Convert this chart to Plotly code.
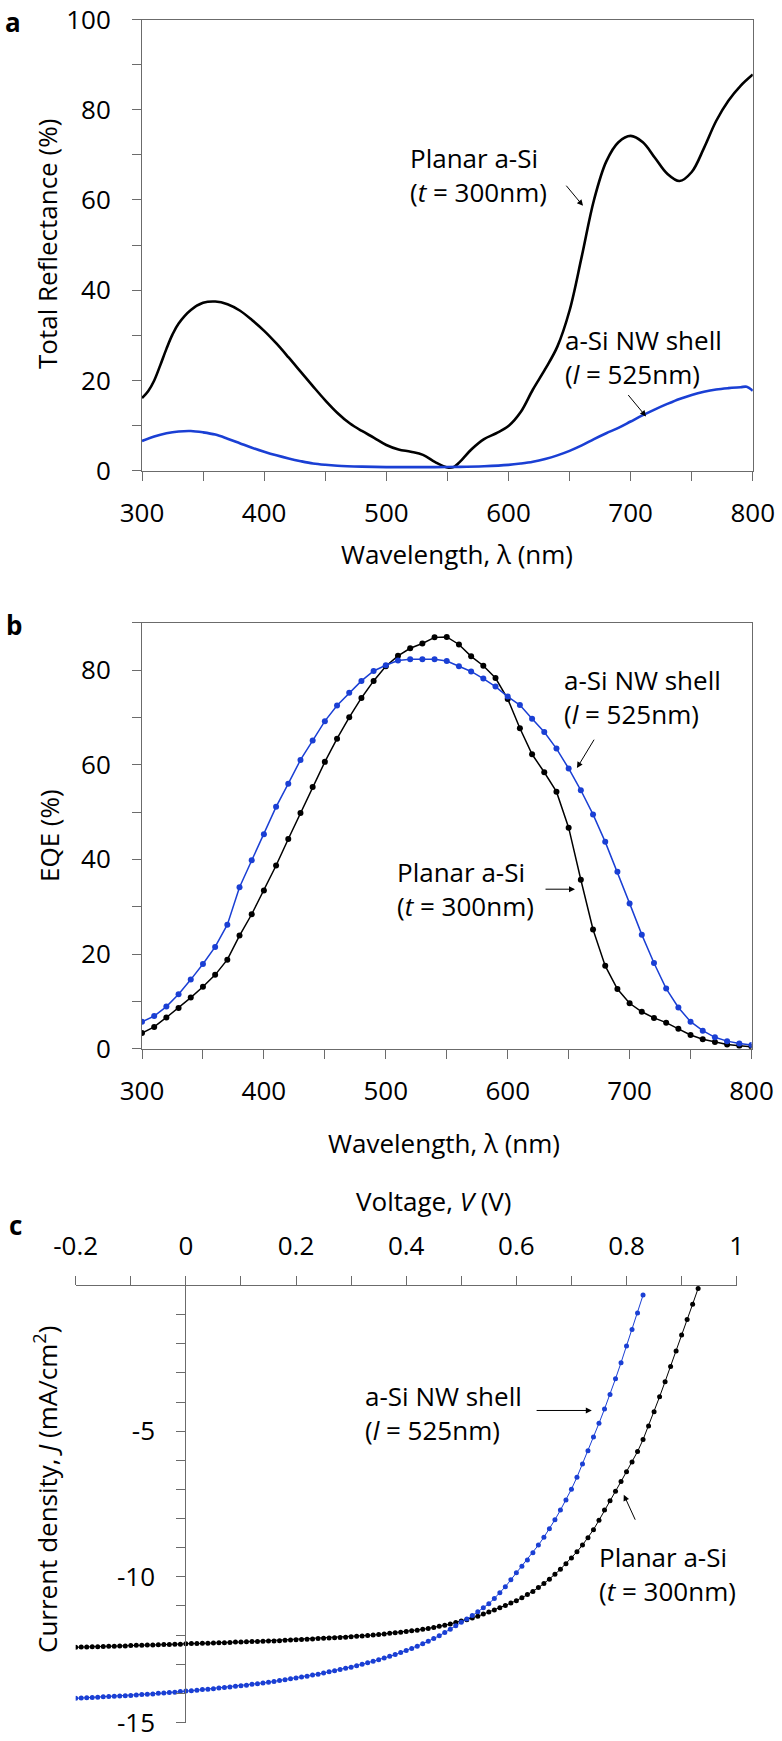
import numpy as np
import plotly.graph_objects as go

W, H = 782, 1741
BLUE = "#1a3fd4"
AXIS = "#6b6b6b"
FONT = "Open Sans"
FS = 26

# ---- (a) total reflectance ----
refl_nm_planar = [300, 305, 310, 315, 320, 325, 330, 340, 350, 360, 370, 380, 390, 400, 410, 420,
                  430, 440, 450, 460, 470, 480, 490, 500, 510, 520, 530, 540, 550, 555, 560, 570,
                  580, 590, 600, 610, 620, 630, 640, 650, 660, 670, 680, 690, 700, 710, 720, 730,
                  740, 750, 760, 770, 780, 790, 800]
refl_planar = [16.1, 17.6, 20.0, 23.4, 27.0, 30.2, 32.6, 35.6, 37.2, 37.5, 36.9, 35.5, 33.4, 31.0, 28.2, 25.1,
               21.9, 18.7, 15.6, 12.8, 10.5, 8.8, 7.3, 5.7, 4.7, 4.2, 3.5, 1.9, 0.7, 0.8, 1.9, 4.8,
               7.0, 8.3, 9.9, 13.0, 18.0, 22.5, 27.5, 35.5, 47.5, 60.0, 68.5, 72.8, 74.2, 72.8, 69.3, 65.8,
               64.2, 66.2, 71.5, 77.5, 82.0, 85.3, 87.8]
refl_nm_nw = [300, 310, 320, 330, 340, 350, 360, 370, 380, 390, 400, 410, 420, 430, 440, 450,
              460, 480, 500, 520, 540, 560, 580, 600, 610, 620, 630, 640, 650, 660, 670, 680,
              690, 700, 710, 720, 730, 740, 750, 760, 770, 780, 790, 795, 800]
refl_nw = [6.6, 7.6, 8.3, 8.7, 8.8, 8.5, 8.0, 7.1, 6.1, 5.1, 4.2, 3.4, 2.7, 2.1, 1.6, 1.3,
           1.1, 0.9, 0.8, 0.8, 0.8, 0.85, 1.0, 1.3, 1.6, 2.0, 2.6, 3.4, 4.4, 5.6, 7.0, 8.3,
           9.5, 10.9, 12.3, 13.6, 14.8, 15.9, 16.8, 17.5, 18.0, 18.3, 18.5, 18.6, 17.7]

# ---- (b) EQE, 10 nm steps ----
eqe_nm = list(range(300, 801, 10))
eqe_planar = [3.3, 4.6, 6.6, 8.6, 10.8, 13.1, 15.6, 18.8, 23.9, 28.4, 33.4, 38.7, 44.3, 49.8, 55.3,
              60.6, 65.5, 70.0, 74.1, 77.7, 80.8, 83.0, 84.6, 85.6, 86.9, 87.0, 85.4, 82.9, 80.9, 78.3,
              73.9, 67.7, 62.2, 58.4, 54.3, 46.7, 35.7, 25.2, 17.5, 12.6, 9.6, 7.8, 6.5, 5.5, 4.2,
              2.9, 2.0, 1.4, 0.9, 0.6, 0.4]
eqe_nw = [5.7, 6.9, 8.9, 11.5, 14.6, 17.9, 21.5, 26.2, 34.1, 39.8, 45.3, 51.1, 56.0, 61.0, 65.1,
          69.2, 72.5, 75.2, 77.7, 79.8, 81.0, 82.0, 82.3, 82.3, 82.3, 81.9, 80.8, 79.7, 78.2, 76.5,
          74.4, 72.6, 69.7, 66.9, 63.4, 59.2, 54.6, 49.5, 43.7, 37.4, 30.7, 24.1, 18.1, 12.7, 8.7,
          5.7, 3.8, 2.4, 1.6, 1.1, 0.8]

# ---- (c) J-V, 10 mV steps starting at -0.2 V ----
jv_planar = [-12.42, -12.41, -12.41, -12.40, -12.40, -12.39, -12.38, -12.38, -12.37, -12.37,
             -12.36, -12.35, -12.35, -12.34, -12.34, -12.33, -12.32, -12.32, -12.31, -12.31,
             -12.30, -12.29, -12.29, -12.28, -12.28, -12.27, -12.26, -12.26, -12.25, -12.24,
             -12.24, -12.23, -12.22, -12.22, -12.21, -12.20, -12.20, -12.19, -12.18, -12.17,
             -12.16, -12.15, -12.14, -12.13, -12.12, -12.11, -12.10, -12.09, -12.08, -12.07,
             -12.06, -12.04, -12.03, -12.01, -12.00, -11.98, -11.96, -11.94, -11.92, -11.90,
             -11.88, -11.85, -11.83, -11.80, -11.77, -11.74, -11.70, -11.66, -11.62, -11.57,
             -11.52, -11.47, -11.41, -11.35, -11.28, -11.21, -11.14, -11.06, -10.98, -10.90,
             -10.82, -10.72, -10.61, -10.50, -10.37, -10.23, -10.08, -9.91, -9.74, -9.55,
             -9.35, -9.14, -8.91, -8.66, -8.38, -8.06, -7.71, -7.39, -7.06, -6.73,
             -6.39, -6.06, -5.70, -5.29, -4.82, -4.33, -3.82, -3.30, -2.78, -2.25,
             -1.70, -1.17, -0.64, -0.10]
jv_nw = [-14.17, -14.16, -14.15, -14.14, -14.13, -14.12, -14.11, -14.10, -14.09, -14.08,
         -14.07, -14.06, -14.04, -14.03, -14.02, -14.00, -13.99, -13.97, -13.96, -13.94,
         -13.92, -13.91, -13.89, -13.87, -13.86, -13.84, -13.82, -13.80, -13.78, -13.76,
         -13.74, -13.72, -13.69, -13.67, -13.64, -13.62, -13.59, -13.56, -13.53, -13.50,
         -13.47, -13.44, -13.41, -13.37, -13.34, -13.30, -13.26, -13.22, -13.18, -13.14,
         -13.10, -13.05, -13.00, -12.95, -12.90, -12.85, -12.79, -12.73, -12.67, -12.60,
         -12.53, -12.46, -12.38, -12.30, -12.21, -12.12, -12.02, -11.91, -11.80, -11.68,
         -11.56, -11.45, -11.33, -11.20, -11.06, -10.92, -10.74, -10.55, -10.34, -10.10,
         -9.86, -9.64, -9.42, -9.17, -8.91, -8.64, -8.35, -8.04, -7.71, -7.36,
         -6.99, -6.58, -6.13, -5.67, -5.20, -4.73, -4.24, -3.74, -3.20, -2.65,
         -2.08, -1.51, -0.94, -0.33]
v_planar = np.round(-0.2 + 0.01 * np.arange(len(jv_planar)), 2)
v_nw = np.round(-0.2 + 0.01 * np.arange(len(jv_nw)), 2)

v_ticks = [-0.2, 0, 0.2, 0.4, 0.6, 0.8, 1]
v_ticktext = ["-0.2", "0", "0.2", "0.4", "0.6", "0.8", "1"]
j_ticks = [-5, -10, -15]
j_ticktext = ["-5", "-10", "-15"]


def fx(px):
    return px / W


def fy(py):
    return 1 - py / H


fig = go.Figure()

fig.add_trace(go.Scatter(x=refl_nm_planar, y=refl_planar, mode="lines", line=dict(color="black", width=2.6, shape="spline"),
                         xaxis="x", yaxis="y"))
fig.add_trace(go.Scatter(x=refl_nm_nw, y=refl_nw, mode="lines", line=dict(color=BLUE, width=2.6, shape="spline"),
                         xaxis="x", yaxis="y"))

fig.add_trace(go.Scatter(x=eqe_nm, y=eqe_planar, mode="lines+markers", line=dict(color="black", width=1.5),
                         marker=dict(size=6, color="black"), xaxis="x2", yaxis="y2"))
fig.add_trace(go.Scatter(x=eqe_nm, y=eqe_nw, mode="lines+markers", line=dict(color=BLUE, width=1.5),
                         marker=dict(size=6, color=BLUE), xaxis="x2", yaxis="y2"))

fig.add_trace(go.Scatter(x=v_planar, y=jv_planar, mode="lines+markers", line=dict(color="black", width=1),
                         marker=dict(size=5, color="black"), xaxis="x3", yaxis="y3"))
fig.add_trace(go.Scatter(x=v_nw, y=jv_nw, mode="lines+markers", line=dict(color=BLUE, width=1),
                         marker=dict(size=5, color=BLUE), xaxis="x3", yaxis="y3"))

tickfont = dict(family=FONT, size=FS, color="black")
common = dict(showline=True, linecolor=AXIS, linewidth=1, ticks="outside", ticklen=9,
              tickcolor=AXIS, showgrid=False, zeroline=False, tickfont=tickfont,
              automargin=False, ticklabeloverflow="allow")

fig.update_layout(
    template="none",
    width=W, height=H, margin=dict(l=0, r=0, t=0, b=0, pad=0), autosize=False,
    paper_bgcolor="white", plot_bgcolor="white", showlegend=False,
    font=dict(family=FONT, size=FS, color="black"),
    xaxis=dict(domain=[fx(142), fx(752.8)], range=[300, 800], anchor="y", mirror=True,
               tickmode="array", tickvals=[300, 400, 500, 600, 700, 800],
               minor=dict(tickmode="array", tickvals=[350, 450, 550, 650, 750],
                          ticks="outside", ticklen=9, tickcolor=AXIS),
               ticklabelstandoff=10, **common),
    yaxis=dict(domain=[fy(470.7), fy(19.5)], range=[0, 100], anchor="x", mirror=True,
               tickmode="array", tickvals=[0, 20, 40, 60, 80, 100],
               minor=dict(tickmode="array", tickvals=[10, 30, 50, 70, 90],
                          ticks="outside", ticklen=9, tickcolor=AXIS),
               ticklabelstandoff=16, **common),
    xaxis2=dict(domain=[fx(142), fx(751.5)], range=[300, 800], anchor="y2", mirror=True,
                tickmode="array", tickvals=[300, 400, 500, 600, 700, 800],
                minor=dict(tickmode="array", tickvals=[350, 450, 550, 650, 750],
                           ticks="outside", ticklen=9, tickcolor=AXIS),
                ticklabelstandoff=10, **common),
    yaxis2=dict(domain=[fy(1048.7), fy(622.7)], range=[0, 90], anchor="x2", mirror=True,
                tickmode="array", tickvals=[0, 20, 40, 60, 80],
                minor=dict(tickmode="array", tickvals=[10, 30, 50, 70, 90],
                           ticks="outside", ticklen=9, tickcolor=AXIS),
                ticklabelstandoff=16, **common),
    xaxis3=dict(domain=[fx(75.7), fx(736.7)], range=[-0.2, 1], anchor="y3", side="top",
                tickmode="array", tickvals=v_ticks, ticktext=v_ticktext,
                minor=dict(tickmode="array", tickvals=[-0.1, 0.1, 0.3, 0.5, 0.7, 0.9],
                           ticks="outside", ticklen=9, tickcolor=AXIS),
                ticklabelstandoff=10, **common),
    yaxis3=dict(domain=[fy(1722.5), fy(1285.5)], range=[-15, 0], anchor="free", position=fx(185.3),
                tickmode="array", tickvals=j_ticks, ticktext=j_ticktext,
                minor=dict(tickmode="array", tickvals=[v for v in range(-14, 0) if v % 5],
                           ticks="outside", ticklen=9, tickcolor=AXIS),
                ticklabelstandoff=16, **common),
)

titles = [
    ("Total Reflectance (%)", 47, 244, -90),
    ("Wavelength, λ (nm)", 457, 554, 0),
    ("EQE (%)", 49, 836, -90),
    ("Wavelength, λ (nm)", 444, 1143, 0),
    ("Voltage, <i>V</i> (V)", 434, 1201, 0),
    ("Current density, <i>J</i> (mA/cm<sup>2</sup>)", 46, 1490, -90),
]
for text, x, y, ang in titles:
    fig.add_annotation(text=text, x=fx(x), y=fy(y), xref="paper", yref="paper",
                       showarrow=False, textangle=ang, xanchor="center", yanchor="middle")

for lab, x, y in [("a", 13, 22), ("b", 14, 625), ("c", 15, 1225)]:
    fig.add_annotation(text="<b>" + lab + "</b>", x=fx(x), y=fy(y), xref="paper", yref="paper",
                       showarrow=False, xanchor="center", yanchor="middle", font=dict(size=FS))

planar = "Planar a-Si<br>(<i>t</i> = 300nm)"
nw = "a-Si NW shell<br>(<i>l</i> = 525nm)"
labels = [
    (planar, 517.7, 65.6, "x", "y"),
    (nw, 644.6, 25.1, "x", "y"),
    (nw, 644.5, 74.2, "x2", "y2"),
    (planar, 507.5, 33.7, "x2", "y2"),
    (nw, 0.321, -4.36, "x3", "y3"),
    (planar, 0.746, -9.89, "x3", "y3"),
]
for text, x, y, xr, yr in labels:
    fig.add_annotation(text=text, x=x, y=y, xref=xr, yref=yr, showarrow=False,
                       xanchor="left", yanchor="middle", align="left")

# arrows: (tail x, tail y, head x, head y)
arrows = [
    (646.3, 63.5, 661.0, 58.7, "x", "y"),
    (697.0, 17.1, 712.6, 12.0, "x", "y"),
    (671.6, 65.6, 656.8, 59.3, "x2", "y2"),
    (629.8, 33.7, 655.2, 33.7, "x2", "y2"),
    (0.634, -4.29, 0.737, -4.29, "x3", "y3"),
    (0.817, -8.09, 0.795, -7.18, "x3", "y3"),
]
for tx, ty, hx, hy, xr, yr in arrows:
    fig.add_annotation(text="", x=hx, y=hy, ax=tx, ay=ty, xref=xr, yref=yr, axref=xr, ayref=yr,
                       showarrow=True, arrowhead=2, arrowsize=1.2, arrowwidth=1, arrowcolor="black")

# the page body keeps the browser's default margin; drop it so the figure fills the window
fig.write_html("out.html", config={"displayModeBar": False},
               post_script="document.body.style.margin='0';document.body.style.overflow='hidden';")
